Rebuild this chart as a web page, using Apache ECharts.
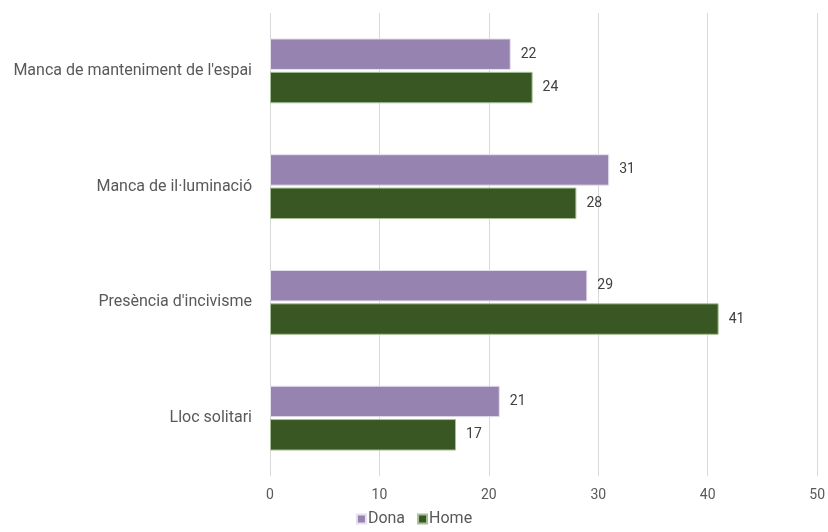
<!DOCTYPE html>
<html>
<head>
<meta charset="utf-8">
<script src="https://cdn.jsdelivr.net/npm/echarts@6/dist/echarts.min.js"></script>
<style>
  html, body { margin: 0; padding: 0; background: #fff; }
  #main { width: 828px; height: 532px; }
</style>
</head>
<body>
<div id="main"></div>
<script>
// categories, top to bottom
var categories = [
  "Manca de manteniment de l'espai",
  "Manca de il·luminació",
  "Presència d'incivisme",
  "Lloc solitari"
];
var dona = [22, 31, 29, 21];
var home = [24, 28, 41, 17];

var myChart = echarts.init(document.getElementById("main"));

var option = {
  animation: false,
  textStyle: { fontFamily: "Roboto, 'Liberation Sans', sans-serif" },
  grid: { left: 270, right: 9, top: 13, bottom: 56 },
  legend: {
    bottom: 0,
    left: "center",
    itemWidth: 9,
    itemHeight: 9,
    itemGap: 12,
    icon: "rect",
    textStyle: { color: "#595959", fontSize: 16, padding: [0, 0, 0, -3] },
    data: ["Dona", "Home"]
  },
  xAxis: {
    type: "value",
    min: 0,
    max: 50,
    interval: 10,
    axisLine: { show: false },
    axisTick: { show: false },
    axisLabel: { color: "#595959", fontSize: 14, margin: 12 },
    splitLine: { lineStyle: { color: "#d9d9d9" } }
  },
  yAxis: {
    type: "category",
    inverse: true,
    data: categories,
    axisLine: { show: false },
    axisTick: { show: false },
    axisLabel: { color: "#595959", fontSize: 16, margin: 18 }
  },
  series: [
    {
      name: "Dona",
      type: "bar",
      data: dona,
      barCategoryGap: "44%",
      barGap: "6%",
      itemStyle: { color: "#9683b0", borderColor: "#e6e0ee", borderWidth: 1 },
      label: { show: true, position: "right", color: "#404040", fontSize: 14, distance: 10 }
    },
    {
      name: "Home",
      type: "bar",
      data: home,
      barCategoryGap: "44%",
      barGap: "6%",
      itemStyle: { color: "#385723", borderColor: "#a9c096", borderWidth: 1 },
      label: { show: true, position: "right", color: "#404040", fontSize: 14, distance: 10 }
    }
  ]
};

myChart.setOption(option);
</script>
</body>
</html>
